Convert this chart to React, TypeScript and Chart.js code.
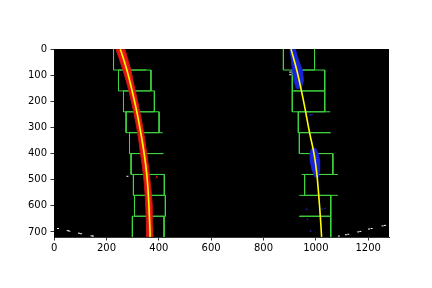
import React, { useEffect, useRef } from 'react';
import { Chart, registerables } from 'chart.js';

Chart.register(...registerables);

// ---- axis ticks (image pixel coordinates, 1280 x 720) ----
const xTicks = [0, 200, 400, 600, 800, 1000, 1200];
const yTicks = [0, 100, 200, 300, 400, 500, 600, 700];

// ---- sliding window row boundaries (y) ----
const winY = [0, 80, 160, 240, 320, 400, 480, 560, 640, 720];

// left lane windows, top row first
const leftWinLo = [227, 246, 265, 275, 288, 294, 303, 307, 299];
const leftWinHi = [352, 370, 383, 401, 415, 418, 421, 425, 420];
const leftWinEdgeL = [1, 1, 1, 1, 1, 1, 1, 1, 1];
const leftWinEdgeR = [0, 1, 1, 1, 0, 0, 1, 1, 1];

// right lane windows, top row first
const rightWinLo = [876, 910, 910, 933, 937, 946, 957, 937, 937];
const rightWinHi = [995, 1034, 1034, 1055, 1057, 1065, 1084, 1057, 1057];
const rightWinEdgeL = [1, 1, 1, 1, 1, 0, 1, 0, 0];
const rightWinEdgeR = [1, 1, 1, 0, 0, 1, 0, 1, 1];

// fitted lane lines (yellow)
const fitY = [0, 80, 160, 240, 320, 400, 480, 560, 640, 719];
const leftFitX = [253, 278, 298, 316, 331, 344, 354, 360, 364, 367];
const rightFitX = [905, 927, 945, 961, 976, 993, 1004, 1011, 1017, 1022];

// left lane pixels (red band)
const leftBandY = [0, 40, 80, 120, 160, 200, 240, 280, 320, 360, 400, 440, 480, 520, 560, 600, 640, 680, 719];
const leftBandLo = [236, 250, 263, 275, 286, 295, 304, 312, 319, 325, 330, 336, 341, 345, 348, 350, 352, 353, 354];
const leftBandHi = [270, 282, 293, 301, 310, 319, 327, 335, 342, 348, 354, 359, 364, 368, 372, 374, 376, 377, 378];

// right lane pixels (blue clusters)
const blueTopY = [0, 40, 80, 120, 150];
const blueTopLo = [901, 906, 911, 916, 926];
const blueTopHi = [921, 933, 948, 953, 944];
const blueMidY = [380, 400, 430, 460, 490];
const blueMidLo = [983, 979, 979, 985, 997];
const blueMidHi = [999, 1009, 1015, 1015, 1009];
const blueDotsX = [978, 962, 985, 965, 1023, 1035, 968, 980];
const blueDotsY = [253, 258, 250, 614, 612, 610, 652, 697];

// stray red pixel
const redDotsX = [392];
const redDotsY = [489];

// other (white) nonzero pixels
const whiteX = [15, 52, 58, 95, 103, 143, 148, 280, 902, 902, 1088, 1115, 1124, 1162, 1170, 1203, 1213, 1255, 1264];
const whiteY = [687, 695, 697, 705, 707, 715, 716, 487, 88, 98, 716, 711, 709, 700, 698, 689, 687, 677, 675];

type P = { x: number; y: number };

function windowSegments(lo: number[], hi: number[], showL: number[], showR: number[]): P[] {
  const pts: P[] = [];
  const gap = { x: NaN, y: NaN };
  const n = lo.length;
  for (let i = 0; i < n; i++) {
    const top = winY[i];
    const bot = winY[i + 1];
    if (i > 0) pts.push({ x: lo[i], y: top }, { x: hi[i], y: top }, gap);
    if (i < n - 1) pts.push({ x: lo[i], y: bot }, { x: hi[i], y: bot }, gap);
    if (showL[i]) pts.push({ x: lo[i], y: top }, { x: lo[i], y: bot }, gap);
    if (showR[i]) pts.push({ x: hi[i], y: top }, { x: hi[i], y: bot }, gap);
  }
  return pts;
}

function band(ys: number[], lo: number[], hi: number[]): P[] {
  const pts: P[] = ys.map((y, i) => ({ x: lo[i], y }));
  for (let i = ys.length - 1; i >= 0; i--) pts.push({ x: hi[i], y: ys[i] });
  pts.push({ x: lo[0], y: ys[0] });
  return pts;
}

const zip = (xs: number[], ys: number[]): P[] => xs.map((x, i) => ({ x, y: ys[i] }));

const blackBg = {
  id: 'blackBg',
  beforeDatasetsDraw(chart: any) {
    const { ctx, chartArea } = chart;
    ctx.save();
    ctx.fillStyle = '#000';
    ctx.fillRect(chartArea.left, chartArea.top, chartArea.right - chartArea.left, chartArea.bottom - chartArea.top);
    ctx.restore();
  },
};

export default function App() {
  const ref = useRef<HTMLCanvasElement>(null);
  useEffect(() => {
    document.body.style.margin = '0';
    Chart.defaults.font.family = 'DejaVu Sans';
    const green = 'rgb(64, 214, 64)';
    const common = { pointRadius: 0, showLine: true, tension: 0 };
    const chart = new Chart(ref.current as HTMLCanvasElement, {
      type: 'scatter',
      data: {
        datasets: [
          { ...common, data: windowSegments(leftWinLo, leftWinHi, leftWinEdgeL, leftWinEdgeR), borderColor: green, borderWidth: 1, order: 5 } as any,
          { ...common, data: windowSegments(rightWinLo, rightWinHi, rightWinEdgeL, rightWinEdgeR), borderColor: green, borderWidth: 1, order: 5 } as any,
          { ...common, data: band(leftBandY, leftBandLo, leftBandHi), borderColor: 'rgb(200,20,20)', backgroundColor: 'rgb(230,25,15)', borderWidth: 1, fill: 'shape', order: 4 } as any,
          { ...common, data: band(blueTopY, blueTopLo, blueTopHi), borderColor: 'rgb(25,35,210)', backgroundColor: 'rgb(25,35,215)', borderWidth: 1, fill: 'shape', order: 4 } as any,
          { ...common, data: band(blueMidY, blueMidLo, blueMidHi), borderColor: 'rgb(25,35,210)', backgroundColor: 'rgb(25,35,215)', borderWidth: 1, fill: 'shape', order: 4 } as any,
          { data: zip(blueDotsX, blueDotsY), pointRadius: 1, pointStyle: 'rect', backgroundColor: 'rgb(30,40,200)', borderWidth: 0, order: 3 } as any,
          { data: zip(redDotsX, redDotsY), pointRadius: 1.5, pointStyle: 'crossRot', borderColor: 'rgb(220,30,20)', borderWidth: 1, order: 3 } as any,
          { data: zip(whiteX, whiteY), pointRadius: 1, pointStyle: 'line', borderColor: '#fff', borderWidth: 1, order: 2 } as any,
          { ...common, data: zip(leftFitX, fitY), borderColor: '#ffff00', borderWidth: 1.6, tension: 0.4, order: 0 } as any,
          { ...common, data: zip(rightFitX, fitY), borderColor: '#ffff00', borderWidth: 1.6, tension: 0.4, order: 0 } as any,
        ],
      },
      options: {
        responsive: false,
        devicePixelRatio: 1,
        animation: false,
        events: [],
        layout: { padding: { top: 49, right: 43, left: 0, bottom: 0 } },
        plugins: { legend: { display: false }, tooltip: { enabled: false } },
        scales: {
          x: {
            type: 'linear',
            min: -0.5,
            max: 1279.5,
            afterBuildTicks: (s: any) => { s.ticks = xTicks.map((v) => ({ value: v })); },
            afterFit: (s: any) => { s.height = 51; },
            grid: { display: true, drawOnChartArea: false, drawTicks: true, tickLength: 3.5, tickColor: '#000', tickWidth: 0.8 },
            border: { display: true, color: '#000', width: 0.8 },
            ticks: { color: '#000', font: { family: 'DejaVu Sans', size: 10 }, padding: 2, maxRotation: 0, autoSkip: false, callback: (v: any) => String(v) },
          },
          y: {
            type: 'linear',
            reverse: true,
            min: -0.5,
            max: 719.5,
            afterBuildTicks: (s: any) => { s.ticks = yTicks.map((v) => ({ value: v })); },
            afterFit: (s: any) => { s.width = 54; },
            grid: { display: true, drawOnChartArea: false, drawTicks: true, tickLength: 3.5, tickColor: '#000', tickWidth: 0.8 },
            border: { display: true, color: '#000', width: 0.8 },
            ticks: { color: '#000', font: { family: 'DejaVu Sans', size: 10 }, padding: 3.5, autoSkip: false, callback: (v: any) => String(v) },
          },
        },
      } as any,
      plugins: [blackBg],
    });
    return () => chart.destroy();
  }, []);
  return <canvas ref={ref} width={432} height={288} style={{ display: 'block', width: 432, height: 288 }} />;
}
